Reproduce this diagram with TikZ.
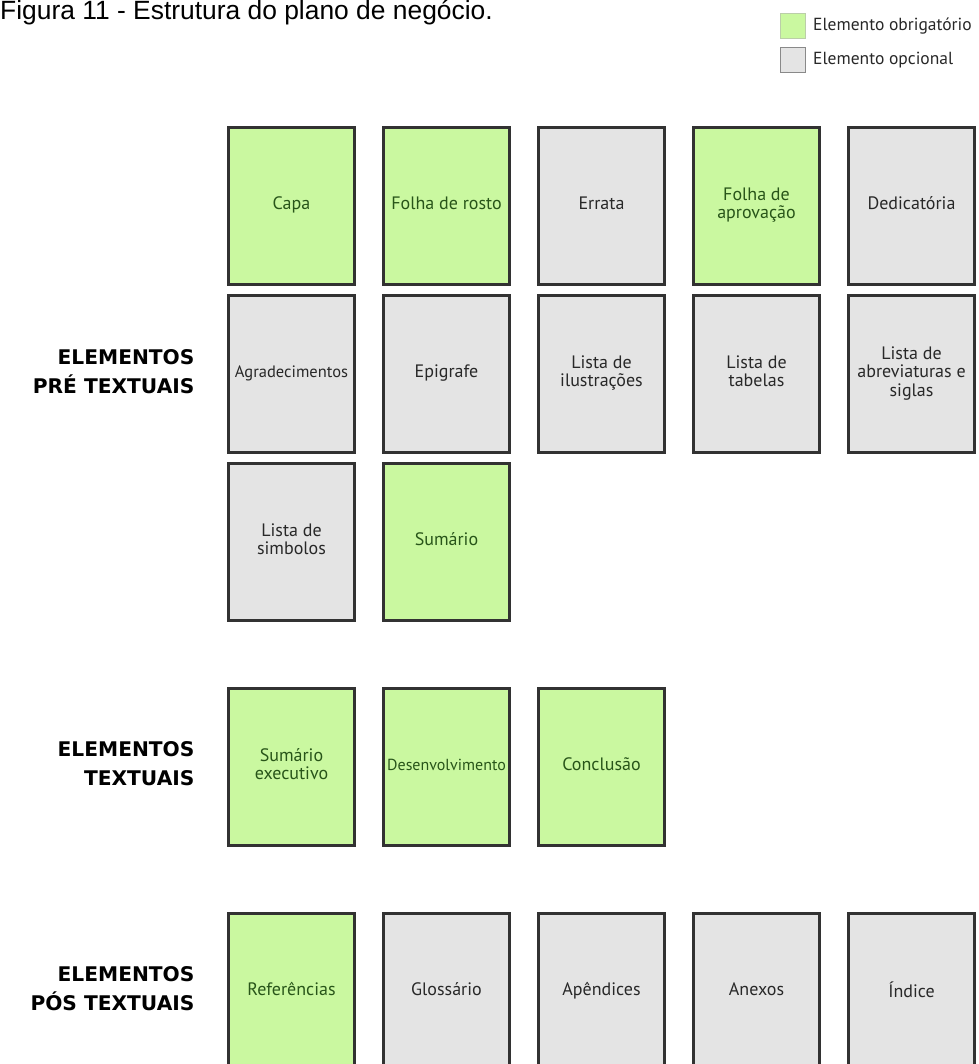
\documentclass[tikz,border=0pt]{standalone}
\usepackage{fontspec}
\newfontfamily\boxfont{PT Sans}
\newfontfamily\labelfont{DejaVu Sans}
\newfontfamily\titlefont{Liberation Sans}
\definecolor{reqfill}{RGB}{202,248,160}
\definecolor{optfill}{RGB}{228,228,228}
\definecolor{boxline}{RGB}{50,50,50}
\definecolor{reqtext}{RGB}{40,85,25}
\definecolor{opttext}{RGB}{40,40,40}
\begin{document}
\begin{tikzpicture}[x=1pt,y=-1pt,
  page/.style={draw=boxline,line width=3pt,minimum width=126pt,minimum height=157pt,
    inner sep=0pt,align=center,font=\boxfont\fontsize{18}{18.5}\selectfont,
    execute at begin node={\strut}, execute at end node={\strut}},
  req/.style={page,fill=reqfill,text=reqtext},
  opt/.style={page,fill=optfill,text=opttext},
  section/.style={anchor=east,align=right,font=\labelfont\bfseries\fontsize{20.2}{29}\selectfont},
  legbox/.style={line width=1pt,minimum width=25pt,minimum height=25pt,inner sep=0pt},
  legtext/.style={anchor=west,inner sep=0pt,text=opttext,font=\boxfont\fontsize{17.5}{18}\selectfont}]
\useasboundingbox (0,0) rectangle (978,1064);

% caption
\node[anchor=base west,inner sep=0pt,font=\titlefont\fontsize{26.4}{30}\selectfont] (title) at (0,20)
  {Figura 11 - Estrutura do plano de negócio.};

% legend
\node[legbox,draw=reqfill!70!black!60,fill=reqfill] (lg1) at (793,26.5) {};
\node[legbox,draw=optfill!60!black,fill=optfill] (lg2) at (793,60.5) {};
\node[legtext] (lt1) at (813,26.5) {Elemento obrigatório};
\node[legtext] (lt2) at (813,60.5) {Elemento opcional};

% pre-textual elements
\node[req] (capa)  at (291.5,206) {Capa};
\node[req] (rosto) at (446.5,206) {Folha de rosto};
\node[opt] (errata) at (601.5,206) {Errata};
\node[req] (aprov) at (756.5,206) {Folha de\\aprovação};
\node[opt] (dedic) at (911.5,206) {Dedicatória};

\node[opt] (agrad) at (291.5,374) {\fontsize{16.5}{18.5}\selectfont Agradecimentos};
\node[opt] (epig)  at (446.5,374) {Epigrafe};
\node[opt] (lilus) at (601.5,374) {Lista de\\ilustrações};
\node[opt] (ltab)  at (756.5,374) {Lista de\\tabelas};
\node[opt] (labrev) at (911.5,374) {Lista de\\abreviaturas e\\siglas};

\node[opt] (lsimb) at (291.5,542) {Lista de\\simbolos};
\node[req] (sumar) at (446.5,542) {Sumário};

% textual elements
\node[req] (sumex) at (291.5,767) {Sumário\\executivo};
\node[req] (desenv) at (446.5,767) {\fontsize{16}{18.5}\selectfont Desenvolvimento};
\node[req] (concl) at (601.5,767) {Conclusão};

% post-textual elements
\node[req] (refs) at (291.5,992) {Referências};
\node[opt] (gloss) at (446.5,992) {Glossário};
\node[opt] (apend) at (601.5,992) {Apêndices};
\node[opt] (anex) at (756.5,992) {Anexos};
\node[opt] (indice) at (911.5,992) {Índice};

% section labels
\node[section] (pre) at (198,372) {ELEMENTOS\\PRÉ TEXTUAIS};
\node[section] (txt) at (198,764) {ELEMENTOS\\TEXTUAIS};
\node[section] (pos) at (198,989) {ELEMENTOS\\PÓS TEXTUAIS};
\end{tikzpicture}
\end{document}
